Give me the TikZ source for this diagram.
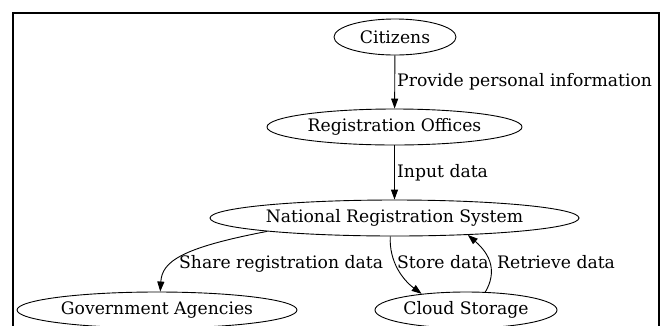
\documentclass[tikz,border=0pt]{standalone}
\usepackage{fontspec}
\setmainfont{DejaVu Serif}
\usetikzlibrary{shapes.geometric,arrows.meta}
\begin{document}
\begin{tikzpicture}[x=1pt,y=-1pt,
  every node/.style={font=\fontsize{17.2}{19}\selectfont},
  ell/.style={ellipse,draw,line width=0.9pt,inner sep=0pt,minimum height=36pt},
  lab/.style={anchor=base west,inner sep=0pt},
  edge/.style={line width=0.9pt,-{Triangle[length=10pt,width=7pt]}}]
\useasboundingbox (0,0) rectangle (669,325);
\draw[line width=1.3pt] (13,340) -- (13,13) -- (659,13) -- (659,340);
\node[ell,minimum width=122pt] (cit) at (395,37) {Citizens};
\node[ell,minimum width=255pt] (reg) at (394.5,127) {Registration Offices};
\node[ell,minimum width=369pt] (nrs) at (394.5,218) {National Registration System};
\node[ell,minimum width=280pt] (gov) at (157,310) {Government Agencies};
\node[ell,minimum width=182pt] (cld) at (466,310) {Cloud Storage};
\draw[edge] (cit) -- (reg);
\draw[edge] (reg) -- (nrs);
\draw[edge] (nrs.186) .. controls (180,248) and (162,262) .. (gov.80);
\draw[edge] (nrs.257) .. controls (389,262) and (403,280) .. (cld.160);
\draw[edge] (cld.43) .. controls (497,272) and (491,255) .. (nrs.347);
\node[lab] (l1) at (397,86) {Provide personal information};
\node[lab] (l2) at (397,177) {Input data};
\node[lab] (l3) at (179,268) {Share registration data};
\node[lab] (l4) at (397,268) {Store data};
\node[lab] (l5) at (497,268) {Retrieve data};
\end{tikzpicture}
\end{document}
